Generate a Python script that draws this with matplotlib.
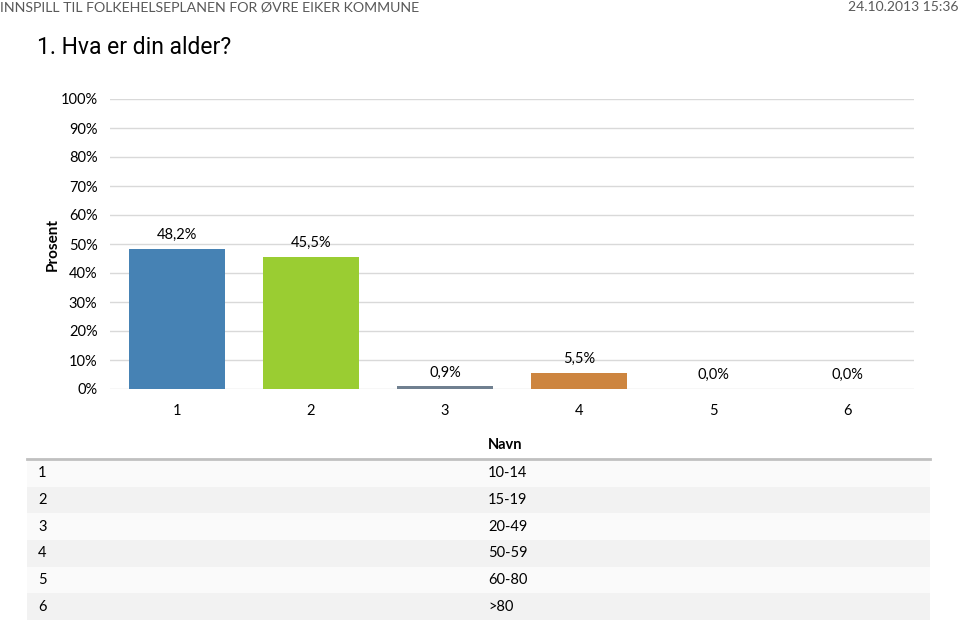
import matplotlib.pyplot as plt
import numpy as np

plt.rcParams['font.family'] = ['Lato', 'DejaVu Sans']

# data
categories = ["1", "2", "3", "4", "5", "6"]
values = [48.2, 45.5, 0.9, 5.5, 0.0, 0.0]
names = ["10-14", "15-19", "20-49", "50-59", "60-80", ">80"]
bar_colors = ["#4682B4", "#9ACD32", "#708090", "#CD853F", "#87CEEB", "#DDA0DD"]
yticks = np.arange(0, 101, 10)

W, H = 960, 622
fig = plt.figure(figsize=(W / 100, H / 100), dpi=100)
fig.patch.set_facecolor("white")


def fx(px):
    return px / W


def fy(px):
    return 1 - px / H


# header
fig.text(fx(0), fy(7), "INNSPILL TIL FOLKEHELSEPLANEN FOR ØVRE EIKER KOMMUNE",
         fontsize=10.2, color="#595959", ha="left", va="center")
fig.text(fx(958), fy(7), "24.10.2013 15:36", fontsize=10, color="#595959",
         ha="right", va="center")
fig.text(fx(37), fy(47), "1. Hva er din alder?", fontsize=16.5, color="black",
         ha="left", va="center", family=["Roboto", "DejaVu Sans"])

# chart
ax = fig.add_axes([fx(110), fy(389), fx(914) - fx(110), fy(99) - fy(389)])
x = np.arange(len(categories))
bars = ax.bar(x, values, width=0.71, color=bar_colors, zorder=2)
ax.set_xlim(-0.5, len(categories) - 0.5)
ax.set_ylim(0, 100)
ax.set_yticks(yticks)
ax.set_yticklabels([f"{v}%" for v in yticks])
ax.set_xticks(x)
ax.set_xticklabels(categories)
ax.grid(axis="y", color="#d9d9d9", linewidth=1, zorder=0)
for s in ax.spines.values():
    s.set_visible(False)
ax.tick_params(axis="both", length=0, labelsize=10.5, colors="black")
ax.tick_params(axis="y", pad=9)
ax.tick_params(axis="x", pad=11)
for b, v in zip(bars, values):
    ax.annotate(f"{v:.1f}%".replace(".", ","), (b.get_x() + b.get_width() / 2, v),
                xytext=(0, 10), textcoords="offset points", ha="center",
                va="center", fontsize=10.5)
fig.text(fx(53), fy(244), "Prosent", rotation=90, fontsize=11,
         fontweight="bold", ha="center", va="center")

# table
tax = fig.add_axes([fx(27), fy(620), fx(930) - fx(27), fy(460) - fy(620)])
tax.set_xlim(0, 1)
tax.set_ylim(len(names), 0)
tax.axis("off")
for i in range(len(names)):
    tax.barh(i + 0.5, 1, height=1, left=0,
             color="#fafafa" if i % 2 == 0 else "#f2f2f2")
    tax.text((38 - 27) / 903, i + 0.5, categories[i], fontsize=10.5,
             ha="left", va="center")
    tax.text((488 - 27) / 903, i + 0.5, names[i], fontsize=10.5,
             ha="left", va="center")
fig.lines.append(plt.Line2D([fx(27), fx(930)], [fy(459), fy(459)],
                            color="#c0c0c0", linewidth=2,
                            transform=fig.transFigure))
fig.text(fx(488), fy(445), "Navn", fontsize=10.5, fontweight="bold",
         ha="left", va="center")

fig.savefig("out.png", dpi=100)
